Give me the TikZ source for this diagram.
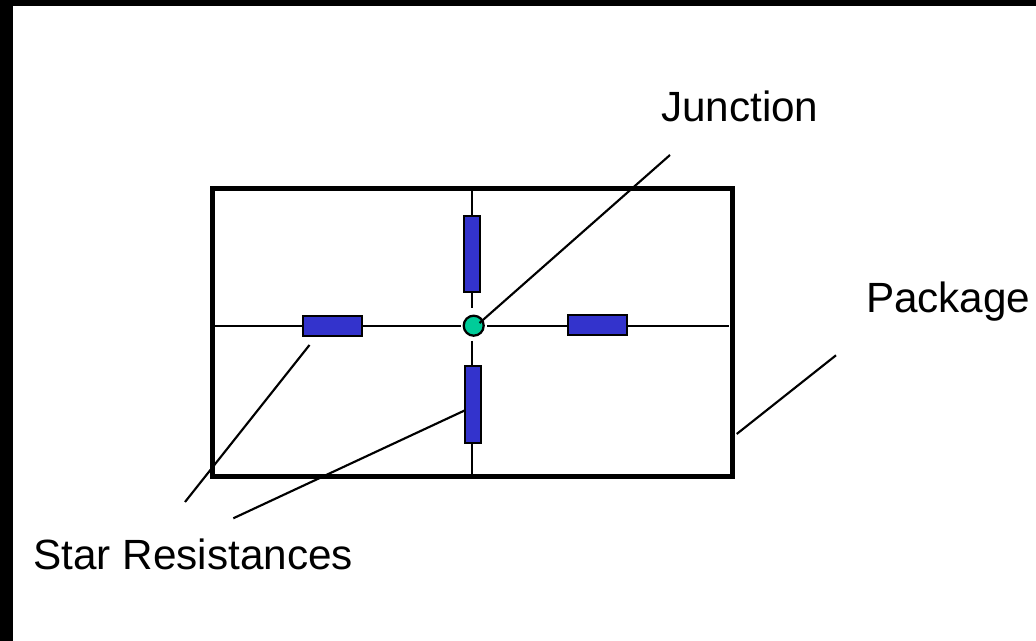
\documentclass[tikz,border=0pt]{standalone}
\usepackage{fontspec}
\setmainfont{Liberation Sans}
\definecolor{resblue}{HTML}{3333CC}
\definecolor{jgreen}{HTML}{00CC99}
\tikzset{
  pkgbox/.style={draw=black,line width=3.75pt,line join=miter,fill=none,inner sep=0pt},
  wire/.style={draw=black,line width=1.5pt},
  leader/.style={draw=black,line width=1.6pt},
  res/.style={draw=black,line width=1.7pt,fill=resblue,inner sep=0pt,outer sep=0pt},
  jdot/.style={circle,draw=black,line width=1.7pt,fill=jgreen,inner sep=0pt,minimum size=15pt},
  lab/.style={inner sep=0pt,outer sep=0pt,anchor=base west,font=\fontsize{31.7pt}{36pt}\selectfont,text=black}
}
\begin{document}
\begin{tikzpicture}[x=0.75pt,y=-0.75pt]
\useasboundingbox (0,0) rectangle (1036,641);
\fill[white] (0,0) rectangle (1036,641);
\fill[black] (0,0) rectangle (1036,6);
\fill[black] (0,0) rectangle (13,641);
% package
\node[pkgbox,minimum width=389.85pt,minimum height=216.2pt] (pkg) at (472.6,332.3) {};
% resistors
\node[res,minimum width=12pt,minimum height=57pt] (rt) at (472,254) {};
\node[res,minimum width=12pt,minimum height=57.75pt] (rb) at (473,404.2) {};
\node[res,minimum width=44.25pt,minimum height=15pt] (rl) at (332.5,326.2) {};
\node[res,minimum width=44.25pt,minimum height=15pt] (rr) at (597.2,324.8) {};
\node[jdot] (j) at (473.7,325.7) {};
% wire end coordinates
\coordinate (wtop) at (472,187);
\coordinate (wtopin) at (472,308);
\coordinate (wbotin) at (472,341);
\coordinate (wbot) at (472,476);
\coordinate (wleft) at (213,326.5);
\coordinate (wleftin) at (461,326.5);
\coordinate (wrightin) at (487,326.5);
\coordinate (wright) at (729,326.5);
\draw[wire] (wtop) -- (wtop |- rt.north);
\draw[wire] (wtop |- rt.south) -- (wtopin);
\draw[wire] (wbotin) -- (wbotin |- rb.north);
\draw[wire] (wbot |- rb.south) -- (wbot);
\draw[wire] (wleft) -- (wleft -| rl.west);
\draw[wire] (wleft -| rl.east) -- (wleftin);
\draw[wire] (wrightin) -- (wrightin -| rr.west);
\draw[wire] (wright -| rr.east) -- (wright);
% labels
\node[lab] (ljunction) at (661,122) {Junction};
\node[lab] (lpackage) at (866,313) {Package};
\node[lab] (lstar) at (33.5,570) {Star Resistances};
% leaders
\coordinate (ajunction) at (670,155);
\coordinate (bjunction) at (479.5,323);
\coordinate (apackage) at (836,355.3);
\coordinate (bpackage) at (736.7,434);
\coordinate (astar1) at (185,502);
\coordinate (bstar1) at (309.5,345);
\coordinate (astar2) at (233.3,518.3);
\coordinate (bstar2) at (rb.west |- 0,410.3);
\draw[leader] (ajunction) -- (bjunction);
\draw[leader] (apackage) -- (bpackage);
\draw[leader] (astar1) -- (bstar1);
\draw[leader] (astar2) -- (bstar2);
\end{tikzpicture}
\end{document}
